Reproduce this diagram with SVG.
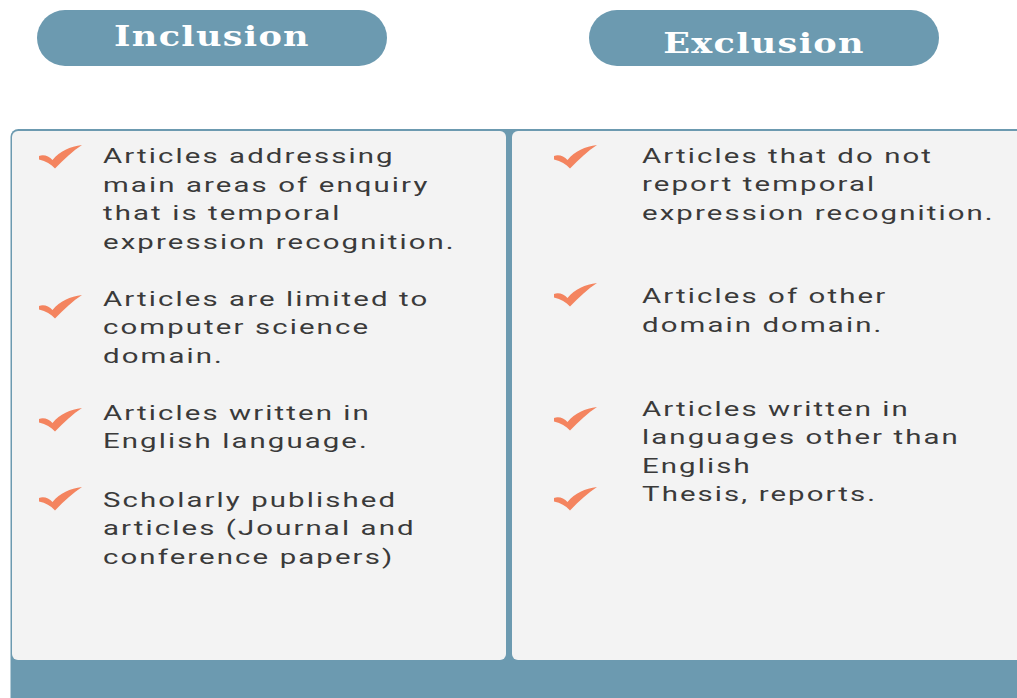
<svg xmlns="http://www.w3.org/2000/svg" xmlns:xlink="http://www.w3.org/1999/xlink" width="1017" height="698" viewBox="0 0 1017 698">
<style>
.pill{fill:#6c9ab0}
.ttl{font-family:"DejaVu Serif","Liberation Serif",serif;font-weight:bold;font-size:27px;fill:#ffffff;letter-spacing:1px;text-anchor:middle}
.txt{font-family:Roboto,"Liberation Sans",sans-serif;font-size:21px;fill:#3a3a3a;letter-spacing:1.5px}
.chk{fill:#f4845f}
</style>
<defs>
<path id="chk" d="M-1,10 C4,8 9,10.5 12.5,14 C20,5 30,0.5 42,-1 C33,5 24,13 15,22.5 C11,18 6,15 -1,13.5 Z"/>
</defs>
<rect width="1017" height="698" fill="#ffffff"/>
<g id="frame">
<rect x="10.5" y="129" width="1030" height="600" rx="8" fill="#6c9ab0"/>
<rect x="12" y="131" width="494" height="529" rx="6" fill="#f3f3f3"/>
<rect x="512" y="131" width="520" height="529" rx="6" fill="#f3f3f3"/>
</g>
<g id="inclusion-title">
<rect class="pill" x="37" y="10" width="350" height="56" rx="28"/>
<g transform="translate(212 46) scale(1.3 1)"><text class="ttl" x="0" y="0">Inclusion</text></g>
</g>
<g id="exclusion-title">
<rect class="pill" x="589" y="10" width="350" height="56" rx="28"/>
<g transform="translate(764 53) scale(1.3 1)"><text class="ttl" x="0" y="0">Exclusion</text></g>
</g>
<g id="inclusion-items">
<use href="#chk" xlink:href="#chk" class="chk" x="40" y="146"/>
<use href="#chk" xlink:href="#chk" class="chk" x="40" y="296"/>
<use href="#chk" xlink:href="#chk" class="chk" x="40" y="409"/>
<use href="#chk" xlink:href="#chk" class="chk" x="40" y="488"/>
<g transform="translate(103 0) scale(1.4 1)">
<text class="txt" x="0" y="163.5">Articles addressing</text>
<text class="txt" x="0" y="192">main areas of enquiry</text>
<text class="txt" x="0" y="220.5">that is temporal</text>
<text class="txt" x="0" y="249">expression recognition.</text>
<text class="txt" x="0" y="306">Articles are limited to</text>
<text class="txt" x="0" y="334.5">computer science</text>
<text class="txt" x="0" y="363">domain.</text>
<text class="txt" x="0" y="420">Articles written in</text>
<text class="txt" x="0" y="448.5">English language.</text>
<text class="txt" x="0" y="507">Scholarly published</text>
<text class="txt" x="0" y="535.5">articles (Journal and</text>
<text class="txt" x="0" y="564">conference papers)</text>
</g>
</g>
<g id="exclusion-items">
<use href="#chk" xlink:href="#chk" class="chk" x="555" y="146"/>
<use href="#chk" xlink:href="#chk" class="chk" x="555" y="284"/>
<use href="#chk" xlink:href="#chk" class="chk" x="555" y="408"/>
<use href="#chk" xlink:href="#chk" class="chk" x="555" y="488"/>
<g transform="translate(642 0) scale(1.4 1)">
<text class="txt" x="0" y="163">Articles that do not</text>
<text class="txt" x="0" y="191.5">report temporal</text>
<text class="txt" x="0" y="220">expression recognition.</text>
<text class="txt" x="0" y="303.5">Articles of other</text>
<text class="txt" x="0" y="332">domain domain.</text>
<text class="txt" x="0" y="416">Articles written in</text>
<text class="txt" x="0" y="444.5">languages other than</text>
<text class="txt" x="0" y="473">English</text>
<text class="txt" x="0" y="501">Thesis, reports.</text>
</g>
</g>
<g id="connectors"/>
</svg>
